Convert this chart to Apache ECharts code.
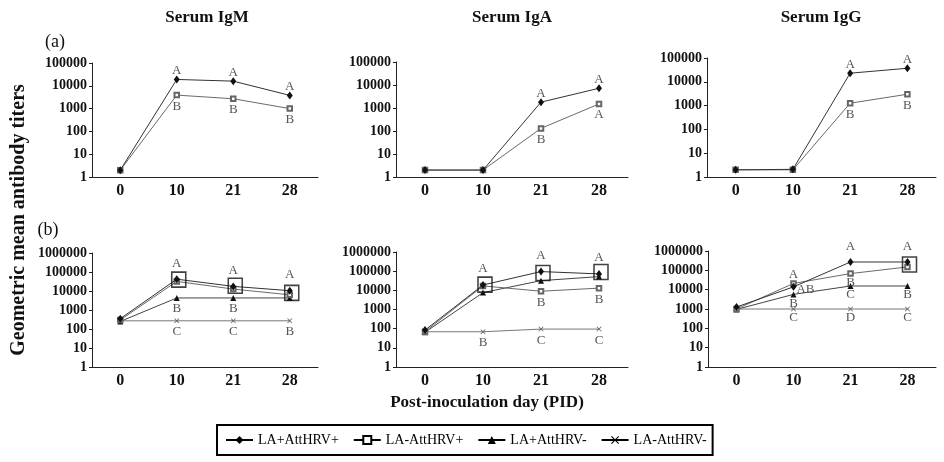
<!DOCTYPE html>
<html><head><meta charset="utf-8">
<script src="https://cdn.jsdelivr.net/npm/echarts@6/dist/echarts.min.js"></script>
<style>html,body{margin:0;padding:0;background:#fff}#c{width:944px;height:462px}</style>
</head><body><div id="c"></div>
<script>
// ---------- data ----------
const days = ['0', '10', '21', '28'];
const seriesNames = ['LA+AttHRV+', 'LA-AttHRV+', 'LA+AttHRV-', 'LA-AttHRV-'];
const panelTitles = ['Serum IgM', 'Serum IgA', 'Serum IgG'];

// (a) panels: LA+AttHRV+ (d) and LA-AttHRV+ (s)
const a_IgM_d = [2, 19000, 16000, 3800];
const a_IgM_s = [2, 3900, 2700, 1000];
const a_IgA_d = [2, 2, 1800, 7200];
const a_IgA_s = [2, 2, 130, 1500];
const a_IgG_d = [2, 2.1, 23000, 37000];
const a_IgG_s = [2, 2, 1260, 3000];

// (b) panels: d = LA+AttHRV+, s = LA-AttHRV+, t = LA+AttHRV-, x = LA-AttHRV-
const b_IgM_d = [350, 42000, 17500, 10400];
const b_IgM_s = [300, 32000, 12600, 6300];
const b_IgM_t = [250, 4300, 4300, 4300];
const b_IgM_x = [270, 270, 270, 270];
const b_IgA_d = [84, 19000, 95000, 72000];
const b_IgA_s = [70, 17000, 9000, 13000];
const b_IgA_t = [65, 7600, 32000, 52000];
const b_IgA_x = [69, 69, 95, 95];
const b_IgG_d = [1260, 14000, 270000, 270000];
const b_IgG_s = [1000, 21000, 68000, 150000];
const b_IgG_t = [950, 5700, 15500, 15500];
const b_IgG_x = [1000, 1000, 1000, 1000];

// highlighted (boxed) values
const b_IgM_box = [null, 40000, 19000, 8000];
const b_IgA_box = [null, 20000, 80000, 90000];
const b_IgG_box = [null, null, null, 200000];

// significance letters
const a_IgM_d_above = ['', 'A', 'A', 'A'];
const a_IgM_s_below = ['', 'B', 'B', 'B'];
const a_IgA_d_above = ['', '', 'A', 'A'];
const a_IgA_s_below = ['', '', 'B', 'A'];
const a_IgG_d_above = ['', '', 'A', 'A'];
const a_IgG_s_below = ['', '', 'B', 'B'];
const b_IgM_d_above = ['', 'A', 'A', 'A'];
const b_IgM_t_below = ['', 'B', 'B', ''];
const b_IgM_x_below = ['', 'C', 'C', 'B'];
const b_IgA_d_above = ['', 'A', 'A', 'A'];
const b_IgA_s_below = ['', '', 'B', 'B'];
const b_IgA_x_below = ['', 'B', 'C', 'C'];
const b_IgG_d_above = ['', '', 'A', 'A'];
const b_IgG_d_right = ['', 'AB', '', ''];
const b_IgG_s_above = ['', 'A', '', ''];
const b_IgG_s_below = ['', '', 'B', ''];
const b_IgG_t_below = ['', 'B', 'C', 'B'];
const b_IgG_x_below = ['', 'C', 'D', 'C'];

// ---------- layout / styles ----------
const SERIF = '"Liberation Serif", "DejaVu Serif", serif';
const crossPath = 'path://M0,1L1,0L5,4L9,0L10,1L6,5L10,9L9,10L5,6L1,10L0,9L4,5Z';
const styles = [
  { symbol: 'diamond', size: [6, 8], line: '#333', item: { color: '#111' } },
  { symbol: 'emptyRect', size: 4.5, line: '#6a6a6a', item: { color: '#666', borderWidth: 1 } },
  { symbol: 'triangle', size: 6, line: '#444', item: { color: '#111' } },
  { symbol: crossPath, size: 5, line: '#777', item: { color: '#555' } }
];

const panels = [
  { grid: { left: 92, top: 63, width: 226, height: 114 }, max: 100000, split: 5, up: -9, down: 11,
    lines: [{ k: 0, data: a_IgM_d, above: a_IgM_d_above }, { k: 1, data: a_IgM_s, below: a_IgM_s_below }] },
  { grid: { left: 396, top: 62, width: 232, height: 115 }, max: 100000, split: 5, up: -9, down: 11,
    lines: [{ k: 0, data: a_IgA_d, above: a_IgA_d_above }, { k: 1, data: a_IgA_s, below: a_IgA_s_below }] },
  { grid: { left: 707, top: 58, width: 229, height: 119 }, max: 100000, split: 5, up: -9, down: 11,
    lines: [{ k: 0, data: a_IgG_d, above: a_IgG_d_above }, { k: 1, data: a_IgG_s, below: a_IgG_s_below }] },
  { grid: { left: 92, top: 253, width: 226, height: 114 }, max: 1000000, split: 6, up: -16, down: 11, box: b_IgM_box,
    lines: [{ k: 0, data: b_IgM_d, above: b_IgM_d_above }, { k: 1, data: b_IgM_s },
            { k: 2, data: b_IgM_t, below: b_IgM_t_below }, { k: 3, data: b_IgM_x, below: b_IgM_x_below }] },
  { grid: { left: 396, top: 252, width: 232, height: 115 }, max: 1000000, split: 6, up: -16, down: 11, box: b_IgA_box,
    lines: [{ k: 0, data: b_IgA_d, above: b_IgA_d_above }, { k: 1, data: b_IgA_s, below: b_IgA_s_below },
            { k: 2, data: b_IgA_t }, { k: 3, data: b_IgA_x, below: b_IgA_x_below }] },
  { grid: { left: 708, top: 251, width: 228, height: 116 }, max: 1000000, split: 6, up: -15, down: 9, box: b_IgG_box,
    lines: [{ k: 0, data: b_IgG_d, above: b_IgG_d_above, right: b_IgG_d_right },
            { k: 1, data: b_IgG_s, above: b_IgG_s_above, below: b_IgG_s_below, upSmall: true },
            { k: 2, data: b_IgG_t, below: b_IgG_t_below }, { k: 3, data: b_IgG_x, below: b_IgG_x_below }] }
];

const grids = [], xAxes = [], yAxes = [], series = [];
panels.forEach((p, i) => {
  grids.push(Object.assign({ containLabel: false }, p.grid));
  xAxes.push({
    type: 'category', gridIndex: i, data: days, boundaryGap: true,
    axisLine: { lineStyle: { color: '#222', width: 1 } },
    axisTick: { inside: true, length: 4, lineStyle: { color: '#222' } },
    axisLabel: { fontFamily: SERIF, fontWeight: 'bold', fontSize: 16, color: '#111', margin: 6 },
    splitLine: { show: false }
  });
  yAxes.push({
    type: 'log', logBase: 10, gridIndex: i, min: 1, max: p.max, splitNumber: p.split,
    axisLine: { show: true, lineStyle: { color: '#222', width: 1 } },
    axisTick: { show: true, length: 3, lineStyle: { color: '#222' } },
    axisLabel: { fontFamily: SERIF, fontWeight: 'bold', fontSize: 14, color: '#111', margin: 5,
                 formatter: v => Math.round(v).toString() },
    splitLine: { show: false }
  });
  p.lines.forEach(l => {
    const st = styles[l.k];
    const labsAt = (v, j) => {
      const labs = [];
      if (l.above && l.above[j]) labs.push({ t: l.above[j], off: [0, l.upSmall ? -9 : p.up] });
      if (l.below && l.below[j]) labs.push({ t: l.below[j], off: [0, p.down] });
      if (l.right && l.right[j]) labs.push({ t: l.right[j], off: [12, 3] });
      return labs;
    };
    const data = l.data.map((v, j) => {
      const labs = labsAt(v, j);
      if (!labs.length) return v;
      return { value: v, label: { show: true, position: 'inside', offset: labs[0].off, formatter: labs[0].t } };
    });
    series.push({
      type: 'line', name: seriesNames[l.k], xAxisIndex: i, yAxisIndex: i, data: data,
      symbol: st.symbol, symbolSize: st.size, showAllSymbol: true,
      lineStyle: { color: st.line, width: 1 }, itemStyle: st.item,
      label: { fontFamily: SERIF, fontSize: 13, color: '#555' },
      emphasis: { disabled: true }, animation: false, z: 3 - l.k * 0.1 + 0.5
    });
    const extra = [];
    l.data.forEach((v, j) => {
      labsAt(v, j).slice(1).forEach(lb => extra.push({ value: [j, v],
        label: { show: true, position: 'inside', offset: lb.off, formatter: lb.t } }));
    });
    if (extra.length) series.push({
      type: 'scatter', xAxisIndex: i, yAxisIndex: i, data: extra, symbolSize: 1,
      itemStyle: { color: 'transparent' }, silent: true, animation: false,
      label: { fontFamily: SERIF, fontSize: 13, color: '#555' }
    });
  });
  if (p.box) {
    series.push({
      type: 'scatter', name: 'box', xAxisIndex: i, yAxisIndex: i, silent: true, animation: false,
      data: p.box.map((v, j) => v == null ? null : [j, v]).filter(d => d),
      symbol: 'rect', symbolSize: [14, 15], symbolOffset: [2, 0],
      itemStyle: { color: 'rgba(0,0,0,0)', borderColor: '#111', borderWidth: 1.6 }, z: 6
    });
  }
});

const txt = (text, x, y, font, extra) => Object.assign({
  type: 'text', x: x, y: y, silent: true,
  style: { text: text, font: font, fill: '#111', textAlign: 'center', textVerticalAlign: 'middle' }
}, extra || {});

const option = {
  backgroundColor: '#fff',
  animation: false,
  grid: grids, xAxis: xAxes, yAxis: yAxes, series: series,
  legend: {
    data: seriesNames, left: 217, top: 425, orient: 'horizontal',
    borderColor: '#000', borderWidth: 2, padding: [8, 6, 8, 8], itemGap: 14,
    itemWidth: 27, itemHeight: 10,
    textStyle: { fontFamily: SERIF, fontSize: 14, color: '#000' },
    lineStyle: { color: '#000', width: 2 }, itemStyle: { color: '#000' }
  },
  graphic: [
    txt(panelTitles[0], 207, 18, 'bold 17px ' + SERIF),
    txt(panelTitles[1], 512, 18, 'bold 17px ' + SERIF),
    txt(panelTitles[2], 821, 18, 'bold 17px ' + SERIF),
    txt('(a)', 55, 42, '18px ' + SERIF),
    txt('(b)', 48, 230, '18px ' + SERIF),
    txt('Geometric mean antibody titers', 19, 220, 'bold 20px ' + SERIF, { rotation: Math.PI / 2 }),
    txt('Post-inoculation day (PID)', 487, 403, 'bold 17px ' + SERIF)
  ]
};

const chart = echarts.init(document.getElementById('c'), null, { renderer: 'canvas' });
chart.setOption(option);
</script>
</body></html>
